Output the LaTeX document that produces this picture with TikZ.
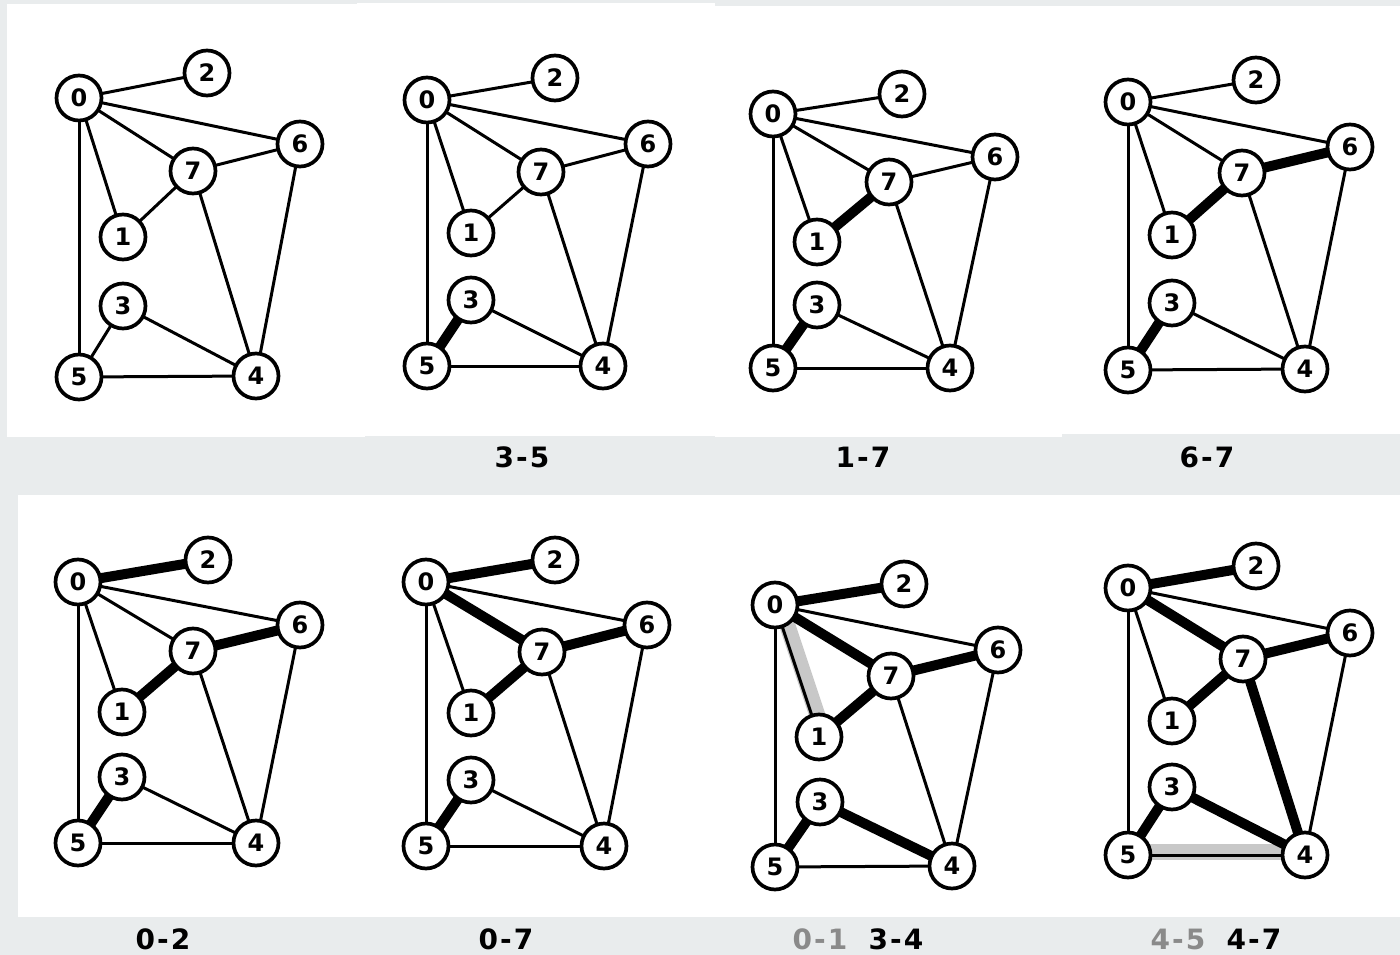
\documentclass[tikz,border=0pt]{standalone}
\usepackage{fontspec}
\newfontfamily\digitfont{DejaVu Sans}
\pgfdeclarelayer{panelbg}
\pgfdeclarelayer{edgelayer}
\pgfsetlayers{panelbg,edgelayer,main}
\definecolor{pagegray}{RGB}{233,236,237}
\definecolor{hlgray}{RGB}{200,200,200}
\definecolor{txtgray}{RGB}{138,138,138}
\tikzset{
  vtx/.style={circle, draw=black, line width=3.7pt, fill=white, minimum size=45pt, inner sep=0pt,
    font=\digitfont\bfseries\fontsize{24}{24}\selectfont},
  thinedge/.style={line width=3pt},
  treeedge/.style={line width=10pt},
  candedge/.style={line width=16pt, hlgray},
  lbl/.style={font=\digitfont\bfseries\fontsize{28}{28}\selectfont, inner sep=0pt, anchor=base},
}
\newcommand\dsh{\kern2pt-\kern2pt}
\newcommand\kpanel[2]{%
  \foreach \i/\x/\y in {#2} \node[vtx] (#1\i) at (\x,\y) {\i};
  \begin{pgfonlayer}{edgelayer}
    \foreach \u/\v in {0/2,0/6,0/7,0/1,0/5,7/6,7/1,7/4,6/4,3/5,3/4,5/4}
      \draw[thinedge] (#1\u.center) -- (#1\v.center);
  \end{pgfonlayer}
}
\newcommand\ktree[2]{%
  \begin{pgfonlayer}{edgelayer}
    \foreach \u/\v in {#2} \draw[treeedge] (#1\u.center) -- (#1\v.center);
  \end{pgfonlayer}
}
\begin{document}
\begin{tikzpicture}[x=1pt,y=-1pt]
\begin{pgfonlayer}{panelbg}
  \fill[pagegray] (0,0) rectangle (1400,955);
  \fill[white] (7,4) rectangle (365,437);
  \fill[white] (357,3) rectangle (715,436);
  \fill[white] (700,3) rectangle (715,6);
  \fill[white] (715,6) rectangle (1062,437);
  \fill[white] (1062,6) rectangle (1400,434);
  \fill[white] (18,495) rectangle (1400,917);
\end{pgfonlayer}
\useasboundingbox (0,0) rectangle (1400,955);

% panel A
\kpanel{a}{0/79/98, 1/123/237, 2/207/73, 3/123/306, 4/256/376, 5/79/377, 6/300/144, 7/193/171}
% panel B
\kpanel{b}{0/427/100, 1/471/233, 2/555/78, 3/471/300, 4/603/366, 5/427/366, 6/648/144, 7/541/172}
\ktree{b}{3/5}
% panel C
\kpanel{c}{0/773/114, 1/817/242, 2/902/94, 3/817/305, 4/950/368, 5/773/368, 6/995/157, 7/889/182}
\ktree{c}{3/5,1/7}
% panel D
\kpanel{d}{0/1128/102, 1/1172/235, 2/1256/80, 3/1172/303, 4/1305/369, 5/1128/370, 6/1350/147, 7/1242/173}
\ktree{d}{3/5,1/7,6/7}
% panel E
\kpanel{e}{0/78/582, 1/122/712, 2/208/560, 3/122/777, 4/256/843, 5/78/843, 6/300/625, 7/193/651}
\ktree{e}{3/5,1/7,6/7,0/2}
% panel F
\kpanel{f}{0/426/582, 1/471/713, 2/555/560, 3/471/780, 4/604/846, 5/426/846, 6/647/625, 7/542/652}
\ktree{f}{3/5,1/7,6/7,0/2,0/7}
% panel G
\kpanel{g}{0/775/605, 1/819/737, 2/904/584, 3/820/802, 4/952/866, 5/775/867, 6/998/650, 7/891/676}
\ktree{g}{3/5,1/7,6/7,0/2,0/7,3/4}
\begin{pgfonlayer}{panelbg}
  \draw[candedge] ([shift={(5,-1.7)}]g0.center) -- ([shift={(5,-1.7)}]g1.center);
\end{pgfonlayer}
% panel H
\kpanel{h}{0/1128/588, 1/1172/721, 2/1256/566, 3/1172/787, 4/1305/855, 5/1128/855, 6/1350/633, 7/1243/659}
\ktree{h}{3/5,1/7,6/7,0/2,0/7,3/4,4/7}
\begin{pgfonlayer}{panelbg}
  \draw[candedge] ([shift={(0,-3.5)}]h5.center) -- ([shift={(0,-3.5)}]h4.center);
\end{pgfonlayer}

% labels
\node[lbl] (l2) at (522,467) {3\dsh5};
\node[lbl] (l3) at (863,467) {1\dsh7};
\node[lbl] (l4) at (1207,467) {6\dsh7};
\node[lbl] (l5) at (163,949) {0\dsh2};
\node[lbl] (l6) at (506,949) {0\dsh7};
\node[lbl, txtgray] (l7a) at (820,949) {0\dsh1};
\node[lbl] (l7b) at (896,949) {3\dsh4};
\node[lbl, txtgray] (l8a) at (1178,949) {4\dsh5};
\node[lbl] (l8b) at (1254,949) {4\dsh7};
\end{tikzpicture}
\end{document}
